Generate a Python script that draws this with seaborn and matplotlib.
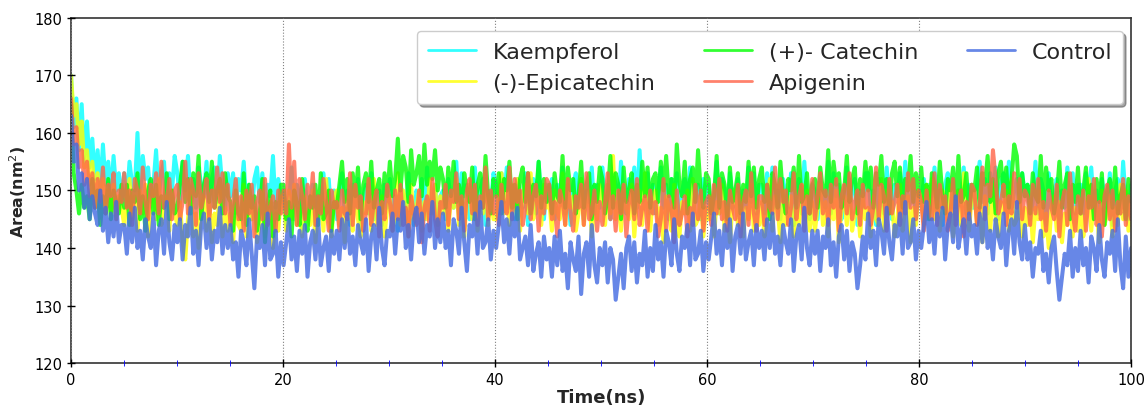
# importar librerías
import numpy as np
import pandas as pd
import seaborn as sns
import matplotlib.pyplot as plt
from matplotlib.ticker import MultipleLocator

# series (un punto cada 0.25 ns, una fila = 5 ns)
kaempferol = [
    170, 161, 166, 157, 165, 155, 162, 154, 159, 152, 157, 150, 158, 151, 155, 149, 156, 150, 153, 148,
    153, 148, 155, 151, 150, 160, 149, 156, 152, 154, 148, 151, 157, 149, 153, 155, 147, 153, 150, 156,
    153, 148, 155, 150, 156, 149, 152, 147, 154, 151, 149, 155, 146, 152, 154, 148, 156, 150, 147, 153,
    149, 153, 146, 152, 150, 155, 147, 151, 145, 152, 154, 148, 153, 146, 151, 149, 156, 147, 152, 148,
    150, 144, 147, 154, 145, 151, 149, 143, 152, 146, 148, 151, 144, 149, 146, 153, 147, 152, 145, 150,
    145, 149, 153, 146, 150, 144, 151, 147, 152, 143, 149, 151, 146, 153, 145, 148, 150, 144, 151, 147,
    152, 146, 149, 143, 151, 149, 145, 153, 147, 144, 150, 148, 152, 145, 154, 146, 147, 151, 144, 149,
    150, 145, 152, 148, 147, 155, 146, 153, 149, 151, 145, 148, 154, 146, 150, 152, 144, 150, 147, 153,
    151, 146, 153, 148, 154, 147, 150, 145, 152, 149, 147, 153, 144, 150, 152, 146, 155, 148, 145, 151,
    148, 152, 145, 151, 149, 154, 146, 150, 144, 151, 153, 147, 152, 145, 150, 148, 154, 146, 151, 147,
    154, 148, 151, 145, 153, 151, 147, 155, 149, 146, 152, 150, 154, 147, 157, 148, 149, 153, 146, 151,
    146, 150, 154, 147, 151, 145, 152, 148, 153, 144, 150, 152, 147, 154, 146, 149, 151, 145, 152, 148,
    151, 145, 148, 155, 146, 152, 150, 144, 153, 147, 149, 152, 145, 150, 147, 154, 148, 153, 146, 151,
    151, 146, 153, 148, 154, 147, 150, 145, 152, 149, 147, 153, 144, 150, 152, 146, 155, 148, 145, 151,
    150, 145, 152, 148, 147, 155, 146, 153, 149, 151, 145, 148, 154, 146, 150, 152, 144, 150, 147, 153,
    153, 147, 150, 144, 152, 150, 146, 154, 148, 145, 151, 149, 153, 146, 155, 147, 148, 152, 145, 150,
    148, 152, 145, 151, 149, 154, 146, 150, 144, 151, 153, 147, 152, 145, 150, 148, 154, 146, 151, 147,
    147, 151, 155, 148, 152, 146, 153, 149, 154, 145, 151, 153, 148, 155, 147, 150, 152, 146, 153, 149,
    151, 145, 148, 155, 146, 152, 150, 144, 153, 147, 149, 152, 145, 150, 147, 154, 148, 153, 146, 151,
    151, 146, 153, 148, 154, 147, 150, 145, 152, 149, 147, 153, 144, 150, 152, 146, 155, 148, 145, 151,
]
epicatechin = [
    170, 163, 165, 158, 162, 154, 157, 151, 155, 149, 153, 147, 152, 148, 150, 146, 151, 145, 149, 147,
    144, 148, 152, 145, 149, 143, 150, 146, 151, 142, 148, 150, 145, 152, 144, 147, 149, 143, 150, 146,
    144, 148, 141, 138, 145, 150, 142, 146, 140, 147, 149, 143, 148, 141, 146, 144, 150, 142, 147, 143,
    146, 141, 148, 144, 143, 151, 142, 149, 145, 147, 141, 144, 150, 142, 146, 148, 140, 146, 143, 149,
    148, 143, 150, 145, 151, 144, 147, 142, 149, 146, 144, 150, 141, 147, 149, 143, 152, 145, 142, 148,
    150, 144, 147, 141, 149, 147, 143, 151, 145, 142, 148, 146, 150, 143, 152, 144, 145, 149, 142, 147,
    149, 143, 146, 153, 144, 150, 148, 142, 151, 145, 147, 150, 143, 148, 145, 152, 146, 151, 144, 149,
    146, 150, 143, 149, 147, 152, 144, 148, 142, 149, 151, 145, 150, 143, 148, 146, 152, 144, 149, 145,
    145, 149, 153, 146, 150, 144, 151, 147, 152, 143, 149, 151, 146, 153, 145, 148, 150, 144, 151, 147,
    148, 143, 150, 146, 145, 153, 144, 151, 147, 149, 143, 146, 152, 144, 148, 150, 142, 148, 145, 151,
    149, 144, 151, 146, 156, 145, 148, 143, 150, 147, 145, 151, 142, 148, 150, 144, 153, 146, 143, 149,
    150, 144, 147, 141, 149, 147, 143, 151, 145, 142, 148, 146, 150, 143, 152, 144, 145, 149, 142, 147,
    145, 149, 142, 148, 146, 151, 143, 147, 141, 148, 150, 144, 149, 142, 147, 145, 151, 143, 148, 144,
    148, 142, 145, 152, 143, 149, 147, 141, 150, 144, 146, 149, 142, 147, 144, 151, 145, 150, 143, 148,
    143, 147, 151, 144, 148, 142, 149, 145, 150, 141, 147, 149, 144, 151, 143, 146, 148, 142, 149, 145,
    147, 142, 149, 145, 144, 152, 143, 150, 146, 148, 142, 145, 151, 143, 147, 149, 141, 147, 144, 150,
    149, 144, 151, 146, 152, 145, 148, 143, 150, 147, 145, 151, 142, 148, 150, 144, 153, 146, 143, 149,
    150, 144, 147, 141, 149, 147, 143, 151, 145, 142, 148, 146, 150, 143, 152, 144, 145, 149, 142, 147,
    144, 148, 141, 147, 145, 150, 142, 146, 140, 147, 149, 143, 148, 141, 146, 144, 150, 142, 147, 143,
    148, 142, 145, 152, 143, 149, 147, 141, 150, 144, 146, 149, 142, 147, 144, 151, 145, 150, 143, 148,
]
catechin = [
    165, 153, 150, 146, 151, 147, 149, 145, 152, 147, 150, 144, 149, 146, 152, 145, 150, 148, 146, 151,
    147, 151, 144, 150, 148, 153, 145, 149, 143, 150, 152, 146, 151, 144, 149, 147, 153, 145, 150, 146,
    147, 151, 155, 148, 152, 146, 153, 149, 156, 145, 151, 153, 148, 155, 147, 150, 152, 146, 153, 149,
    148, 143, 150, 146, 145, 153, 144, 151, 147, 149, 143, 146, 152, 141, 148, 150, 142, 148, 145, 151,
    151, 145, 148, 142, 150, 148, 144, 152, 146, 143, 149, 147, 151, 144, 153, 145, 146, 150, 143, 148,
    147, 151, 155, 148, 152, 146, 153, 149, 154, 145, 151, 153, 148, 155, 147, 150, 152, 146, 153, 149,
    155, 149, 152, 159, 150, 156, 154, 148, 157, 151, 153, 156, 149, 158, 151, 155, 152, 157, 150, 154,
    152, 147, 154, 149, 155, 148, 151, 146, 153, 150, 148, 154, 145, 151, 153, 147, 156, 149, 146, 152,
    149, 153, 146, 152, 150, 155, 147, 151, 145, 152, 154, 148, 153, 146, 151, 149, 155, 147, 152, 148,
    151, 146, 153, 149, 148, 156, 147, 154, 150, 152, 146, 149, 155, 147, 151, 153, 145, 151, 148, 154,
    152, 146, 149, 156, 147, 153, 151, 145, 154, 148, 150, 153, 146, 151, 148, 155, 149, 154, 147, 152,
    153, 148, 155, 150, 156, 149, 152, 147, 158, 151, 149, 155, 146, 152, 154, 148, 157, 150, 147, 153,
    152, 146, 149, 156, 147, 153, 151, 145, 154, 148, 150, 153, 146, 151, 148, 155, 149, 154, 147, 152,
    154, 148, 151, 145, 153, 151, 147, 155, 149, 146, 152, 150, 154, 147, 156, 148, 149, 153, 146, 151,
    152, 147, 154, 150, 149, 157, 148, 155, 151, 153, 147, 150, 156, 148, 152, 154, 146, 152, 149, 155,
    150, 154, 147, 153, 151, 156, 148, 152, 146, 153, 155, 149, 154, 147, 152, 150, 156, 148, 153, 149,
    154, 148, 151, 145, 153, 151, 147, 155, 149, 146, 152, 150, 154, 147, 156, 148, 149, 153, 146, 151,
    150, 154, 147, 153, 151, 156, 148, 152, 146, 153, 155, 149, 154, 147, 152, 158, 156, 148, 153, 149,
    151, 146, 153, 149, 148, 156, 147, 154, 150, 152, 146, 149, 155, 147, 151, 153, 145, 151, 148, 154,
    146, 150, 154, 147, 151, 145, 152, 148, 153, 144, 150, 152, 147, 154, 146, 149, 151, 145, 152, 148,
]
apigenin = [
    166, 158, 161, 154, 157, 151, 155, 149, 153, 147, 152, 148, 154, 146, 151, 149, 153, 145, 150, 148,
    153, 147, 150, 144, 152, 150, 146, 154, 148, 145, 151, 149, 153, 146, 155, 147, 148, 152, 145, 150,
    151, 145, 148, 155, 146, 152, 150, 144, 153, 147, 149, 152, 145, 150, 147, 154, 148, 153, 146, 151,
    144, 148, 152, 145, 149, 143, 150, 146, 151, 142, 148, 150, 145, 152, 144, 147, 149, 143, 150, 146,
    150, 146, 158, 147, 155, 144, 152, 149, 145, 151, 147, 153, 144, 149, 146, 152, 148, 143, 150, 147,
    148, 143, 150, 146, 145, 153, 144, 151, 147, 149, 143, 146, 152, 144, 148, 150, 142, 148, 145, 151,
    148, 143, 150, 145, 151, 144, 147, 142, 149, 146, 144, 150, 141, 147, 149, 143, 152, 145, 142, 148,
    147, 151, 144, 150, 148, 153, 145, 149, 143, 150, 152, 146, 151, 144, 149, 147, 154, 145, 150, 146,
    149, 144, 151, 147, 146, 154, 145, 152, 148, 150, 144, 147, 153, 145, 149, 151, 143, 149, 146, 152,
    151, 145, 148, 142, 150, 148, 144, 152, 146, 143, 149, 147, 151, 144, 153, 145, 146, 150, 143, 148,
    144, 148, 153, 145, 149, 143, 150, 146, 151, 142, 148, 150, 145, 152, 144, 147, 149, 143, 150, 146,
    148, 142, 145, 152, 143, 149, 147, 141, 150, 144, 146, 149, 142, 147, 144, 151, 145, 150, 143, 148,
    149, 144, 151, 146, 152, 145, 148, 143, 150, 147, 145, 151, 142, 148, 150, 144, 153, 146, 143, 149,
    149, 144, 151, 147, 146, 154, 145, 152, 148, 150, 144, 147, 153, 145, 149, 151, 143, 149, 146, 152,
    145, 149, 153, 146, 150, 144, 151, 147, 152, 143, 149, 151, 146, 153, 145, 148, 150, 144, 151, 147,
    150, 144, 147, 154, 145, 151, 149, 143, 152, 146, 148, 151, 144, 149, 146, 153, 147, 152, 145, 150,
    148, 143, 150, 146, 145, 153, 144, 151, 147, 149, 143, 146, 152, 144, 148, 150, 142, 148, 145, 151,
    150, 144, 147, 154, 145, 151, 149, 157, 152, 146, 148, 151, 144, 149, 146, 153, 147, 152, 145, 150,
    149, 144, 151, 146, 152, 145, 148, 143, 150, 147, 145, 151, 142, 148, 150, 144, 153, 146, 143, 149,
    146, 150, 143, 149, 147, 152, 144, 148, 142, 149, 151, 145, 150, 143, 148, 146, 152, 144, 149, 145,
]
control = [
    163, 155, 158, 150, 153, 147, 152, 145, 149, 146, 144, 150, 143, 147, 141, 146, 142, 148, 141, 144,
    144, 139, 146, 141, 147, 140, 143, 138, 145, 142, 140, 146, 137, 143, 145, 139, 148, 141, 138, 144,
    141, 145, 138, 144, 142, 147, 139, 143, 137, 144, 146, 140, 145, 138, 143, 141, 147, 139, 144, 140,
    144, 138, 141, 135, 143, 141, 137, 145, 139, 133, 142, 140, 144, 137, 146, 138, 139, 143, 135, 141,
    137, 141, 145, 138, 142, 136, 143, 139, 144, 135, 141, 143, 138, 145, 137, 140, 142, 136, 143, 139,
    143, 138, 145, 140, 146, 139, 142, 137, 144, 141, 139, 145, 136, 142, 144, 138, 147, 140, 137, 143,
    142, 146, 139, 145, 143, 148, 140, 144, 138, 145, 147, 141, 146, 139, 144, 142, 148, 140, 145, 141,
    146, 140, 143, 137, 145, 143, 139, 147, 141, 136, 144, 142, 146, 139, 148, 140, 141, 145, 138, 143,
    140, 144, 148, 141, 145, 139, 146, 142, 147, 138, 140, 142, 137, 144, 136, 139, 141, 135, 142, 138,
    140, 135, 142, 137, 143, 136, 139, 133, 141, 138, 136, 142, 132, 139, 141, 135, 144, 137, 134, 140,
    137, 141, 134, 140, 138, 131, 135, 139, 133, 140, 142, 136, 141, 134, 139, 137, 143, 135, 140, 136,
    144, 138, 141, 135, 143, 141, 137, 145, 139, 136, 142, 140, 144, 137, 146, 138, 139, 143, 136, 141,
    138, 142, 146, 139, 143, 137, 144, 140, 145, 136, 142, 144, 139, 146, 138, 141, 143, 137, 144, 140,
    143, 138, 145, 140, 146, 139, 142, 137, 144, 141, 139, 145, 136, 142, 144, 138, 147, 140, 137, 143,
    139, 143, 136, 142, 140, 145, 137, 141, 135, 142, 144, 138, 143, 136, 141, 139, 133, 137, 142, 138,
    146, 140, 143, 137, 145, 143, 139, 147, 141, 138, 144, 142, 146, 139, 148, 140, 141, 145, 138, 143,
    140, 144, 148, 141, 145, 139, 146, 142, 147, 138, 144, 146, 141, 149, 140, 143, 145, 139, 146, 142,
    144, 139, 146, 141, 147, 140, 143, 138, 145, 142, 140, 146, 137, 143, 145, 139, 148, 141, 138, 144,
    138, 141, 135, 140, 139, 143, 136, 139, 134, 140, 142, 136, 131, 135, 139, 137, 143, 135, 140, 136,
    143, 137, 140, 134, 142, 140, 136, 144, 138, 135, 141, 139, 143, 136, 145, 137, 133, 142, 135, 140,
]

nombres = ['Kaempferol', '(-)-Epicatechin', '(+)- Catechin', 'Apigenin', 'Control']
series = [kaempferol, epicatechin, catechin, apigenin, control]
colores = ['cyan', 'yellow', 'lime', 'tomato', 'royalblue']

# tabla larga para seaborn
partes = []
for nombre, vals in zip(nombres, series):
    partes.append(pd.DataFrame({
        'tiempo': np.linspace(0, 100, len(vals)),
        'area': vals,
        'compuesto': nombre,
    }))
df = pd.concat(partes, ignore_index=True)

# estilo del gráfico
sns.set_style("ticks")
plt.rcParams['font.family'] = ['DejaVu Sans']
fig, ax = plt.subplots(figsize=(11.46, 4.10), dpi=100)
fig.subplots_adjust(left=0.062, right=0.987, top=0.954, bottom=0.112)

sns.lineplot(
    data=df, x='tiempo', y='area', hue='compuesto',
    hue_order=nombres, palette=dict(zip(nombres, colores)),
    estimator=None, sort=False, alpha=0.8, linewidth=2.9, ax=ax
)

# ejes
ax.set_xlim(0, 100)
ax.set_ylim(120, 180)
ax.xaxis.set_major_locator(MultipleLocator(20))
ax.xaxis.set_minor_locator(MultipleLocator(5))
ax.yaxis.set_major_locator(MultipleLocator(10))
ax.tick_params(axis='both', which='major', direction='inout', length=6,
               width=1, labelsize=10.5, colors='black')
ax.tick_params(axis='x', which='minor', direction='inout', length=4,
               color='blue')
ax.xaxis.grid(True, which='major', linestyle=':', color='gray', linewidth=0.8)
ax.set_axisbelow(False)
for sp in ax.spines.values():
    sp.set_color('#333333')
    sp.set_linewidth(1.2)

# título y etiquetas
ax.set_xlabel('Time(ns)', fontsize=13, fontweight='bold', labelpad=1)
ax.set_ylabel('Area(nm$^2$)', fontsize=11.4, fontweight='bold')

# leyenda
handles, labels = ax.get_legend_handles_labels()
for h in handles:
    h.set_alpha(0.8)
    h.set_linewidth(2)
ax.legend(handles, labels, ncol=3, loc='upper right',
          bbox_to_anchor=(0.9925, 0.962), borderaxespad=0, fontsize=16,
          shadow=True, fancybox=True, framealpha=1, handlelength=2.15,
          handletextpad=0.75, columnspacing=2.2, labelspacing=0.5,
          borderpad=0.5)

plt.savefig('out.png', dpi=100)
